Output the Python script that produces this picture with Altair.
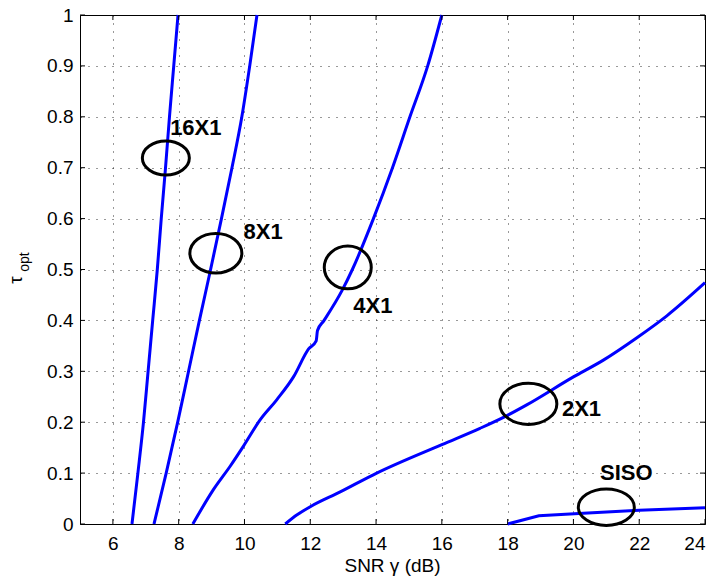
import altair as alt
import pandas as pd

# ---------------- data ----------------
tau_16x1 = [0.0, 0.1, 0.2, 0.3, 0.4, 0.5, 0.6, 0.7, 0.8, 0.9, 1.0]
snr_16x1 = [6.58, 6.76, 6.93, 7.07, 7.21, 7.35, 7.47, 7.60, 7.72, 7.85, 7.98]

tau_8x1 = [0.0, 0.1, 0.2, 0.3, 0.4, 0.5, 0.6, 0.7, 0.8, 0.9, 1.0]
snr_8x1 = [7.25, 7.62, 7.97, 8.30, 8.63, 8.97, 9.30, 9.62, 9.92, 10.16, 10.38]

snr_4x1 = [8.43, 9.06, 9.57, 9.97, 10.48, 10.98, 11.49, 11.95, 12.18, 12.22,
           12.42, 12.96, 13.28, 13.92, 14.50, 15.03, 15.57, 16.0]
tau_4x1 = [0.0, 0.068, 0.114, 0.153, 0.205, 0.244, 0.289, 0.344, 0.36, 0.38,
           0.40, 0.458, 0.5, 0.6, 0.7, 0.8, 0.9, 1.0]

snr_2x1 = [11.24, 11.6, 12.0, 12.91, 14.02, 16.0, 17.16, 17.98, 18.58, 20.0,
           20.91, 21.93, 22.84, 24.0]
tau_2x1 = [0.0, 0.018, 0.034, 0.063, 0.1, 0.156, 0.188, 0.213, 0.234, 0.289,
           0.322, 0.366, 0.409, 0.474]

snr_siso = [18.0, 18.95, 20.3, 22.0, 24.0]
tau_siso = [0.0, 0.016, 0.021, 0.027, 0.032]

# annotation labels and ellipse markers
label_text = ["16X1", "8X1", "4X1", "2X1", "SISO"]
label_snr = [7.74, 9.97, 13.31, 19.65, 20.81]
label_tau = [0.765, 0.559, 0.414, 0.2125, 0.087]

ellipse_snr = [7.61, 9.13, 13.14, 18.63, 21.0]
ellipse_tau = [0.719, 0.532, 0.504, 0.236, 0.033]

x_ticks = [6, 8, 10, 12, 14, 16, 18, 20, 22, 24]
y_ticks = [0.0, 0.1, 0.2, 0.3, 0.4, 0.5, 0.6, 0.7, 0.8, 0.9, 1.0]

# ---------------- build tables ----------------
def table(pairs):
    rows = []
    for name, xs, ys in pairs:
        for i, (x, y) in enumerate(zip(xs, ys)):
            rows.append({"curve": name, "idx": i, "snr": x, "tau": y})
    return pd.DataFrame(rows)

df_smooth = table([("16X1", snr_16x1, tau_16x1), ("8X1", snr_8x1, tau_8x1),
                   ("4X1", snr_4x1, tau_4x1), ("2X1", snr_2x1, tau_2x1)])
df_siso = table([("SISO", snr_siso, tau_siso)])

labels_df = pd.DataFrame({"label": label_text, "snr": label_snr, "tau": label_tau})

W, H = 625, 509
FONT = "Liberation Sans"

xscale = alt.Scale(domain=[5, 24], nice=False, zero=False)
yscale = alt.Scale(domain=[0, 1], nice=False, zero=False)

x_enc = alt.X("snr:Q", scale=xscale,
              axis=alt.Axis(values=x_ticks, title=None, grid=True, ticks=False,
                            labelPadding=10, format="d"))
y_enc = alt.Y("tau:Q", scale=yscale,
              axis=alt.Axis(values=y_ticks, title=None, grid=True, ticks=False,
                            labelPadding=7, format=".1~f"))

lines = alt.Chart(df_smooth).mark_line(
    color="#0000FF", strokeWidth=3, interpolate="monotone").encode(
    x=x_enc, y=y_enc, detail="curve:N", order="idx:Q")
siso = alt.Chart(df_siso).mark_line(color="#0000FF", strokeWidth=3).encode(
    x=alt.X("snr:Q", scale=xscale), y=alt.Y("tau:Q", scale=yscale),
    order="idx:Q")

# ellipse markers (outer width px, height/width ratio)
ellipse_style = [(47, 0.72), (52, 0.76), (47, 0.91), (57, 0.72), (56, 0.65)]
ellipses = []
for cx, cy, (w, r) in zip(ellipse_snr, ellipse_tau, ellipse_style):
    path = f"M-1,0A1,{r},0,1,0,1,0A1,{r},0,1,0,-1,0Z"
    ellipses.append(
        alt.Chart(pd.DataFrame({"snr": [cx], "tau": [cy]}))
        .mark_point(shape=path, size=w * w, filled=False, color="black",
                    strokeWidth=3, opacity=1)
        .encode(x=alt.X("snr:Q", scale=xscale), y=alt.Y("tau:Q", scale=yscale)))

texts = alt.Chart(labels_df).mark_text(
    align="left", baseline="alphabetic", fontSize=22, fontWeight="bold",
    font=FONT, color="black").encode(
    x=alt.X("snr:Q", scale=xscale), y=alt.Y("tau:Q", scale=yscale), text="label:N")

# inward tick marks on all four sides
xt = pd.DataFrame({"snr": x_ticks})
yt = pd.DataFrame({"tau": y_ticks})
tk = dict(color="black", strokeWidth=1)
tick_b = alt.Chart(xt).mark_rule(**tk).encode(
    x=alt.X("snr:Q", scale=xscale), y=alt.value(H), y2=alt.value(H - 5))
tick_t = alt.Chart(xt).mark_rule(**tk).encode(
    x=alt.X("snr:Q", scale=xscale), y=alt.value(0), y2=alt.value(5))
tick_l = alt.Chart(yt).mark_rule(**tk).encode(
    y=alt.Y("tau:Q", scale=yscale), x=alt.value(0), x2=alt.value(5))
tick_r = alt.Chart(yt).mark_rule(**tk).encode(
    y=alt.Y("tau:Q", scale=yscale), x=alt.value(W), x2=alt.value(W - 5))

# axis titles as text
one = pd.DataFrame({"t": ["SNR γ (dB)"]})
x_title = alt.Chart(one).mark_text(
    align="center", baseline="alphabetic", fontSize=19, font=FONT, color="black"
).encode(x=alt.value(W / 2), y=alt.value(H + 48), text="t:N")

tau_df = pd.DataFrame({"t": ["τ"]})
y_title = alt.Chart(tau_df).mark_text(
    align="center", baseline="alphabetic", fontSize=19, font=FONT, color="black",
    angle=270).encode(x=alt.value(-58), y=alt.value(265), text="t:N")
opt_df = pd.DataFrame({"t": ["opt"]})
y_sub = alt.Chart(opt_df).mark_text(
    align="center", baseline="alphabetic", fontSize=14, font=FONT, color="black",
    angle=270).encode(x=alt.value(-51), y=alt.value(247), text="t:N")

chart = alt.layer(
    lines, siso, *ellipses, texts, tick_b, tick_t, tick_l, tick_r,
    x_title, y_title, y_sub
).properties(
    width=W, height=H,
    autosize=alt.AutoSizeParams(type="none"),
    padding={"left": 72, "top": 7, "right": 4, "bottom": 56},
    background="white",
).configure_view(
    stroke="black", strokeWidth=1
).configure_axis(
    labelFont=FONT, labelFontSize=19, labelColor="black",
    domain=False,
    gridColor="#000000", gridDash=[1, 7], gridWidth=1, gridOpacity=0.8,
)

chart.save("out.html", embed_options={"renderer": "svg", "actions": False})
